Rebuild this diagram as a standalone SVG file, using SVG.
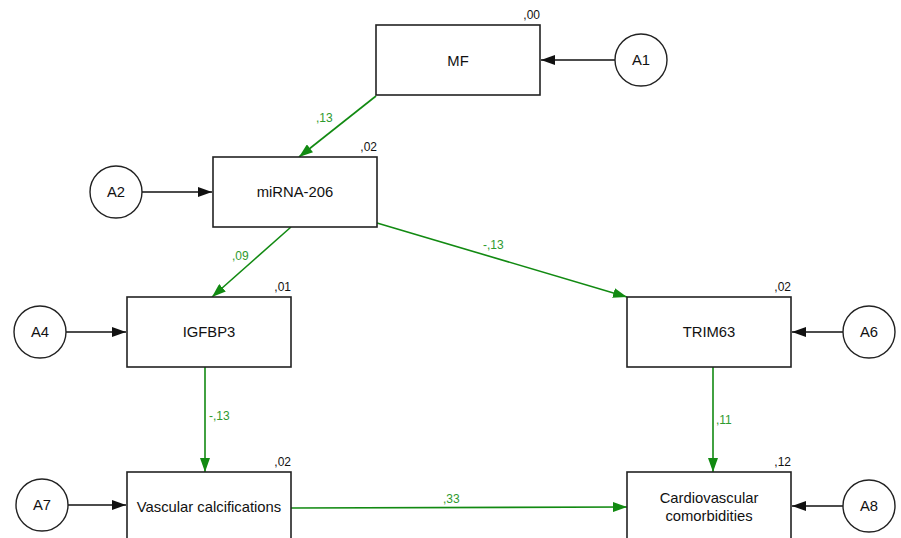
<svg xmlns="http://www.w3.org/2000/svg" width="901" height="538" viewBox="0 0 901 538">
<style>
.box{fill:#fff;stroke:#222;stroke-width:1.6}
.err{fill:#fff;stroke:#222;stroke-width:1.4}
.t{font-family:"Liberation Sans",Arial,sans-serif;font-size:14.8px;fill:#111;text-anchor:middle}
.r{font-family:"Liberation Sans",Arial,sans-serif;font-size:12px;fill:#111;text-anchor:end}
.g{font-family:"Liberation Sans",Arial,sans-serif;font-size:12px;fill:#2e9a2e}
.pl{stroke:#128a12;stroke-width:1.6;fill:none}
.el{stroke:#111;stroke-width:1.6;fill:none}
</style>
<defs>
<marker id="ag" viewBox="0 0 14 10" refX="14" refY="5" markerWidth="14" markerHeight="10" markerUnits="userSpaceOnUse" orient="auto">
<path d="M0,0L14,5L0,10z" fill="#128a12"/>
</marker>
<marker id="ab" viewBox="0 0 14 10" refX="14" refY="5" markerWidth="14" markerHeight="10" markerUnits="userSpaceOnUse" orient="auto">
<path d="M0,0L14,5L0,10z" fill="#111"/>
</marker>
</defs>
<rect width="901" height="538" fill="#fff"/>
<g id="connectors">
<line class="el" x1="615" y1="60" x2="541" y2="60" marker-end="url(#ab)"/>
<line class="el" x1="142" y1="192" x2="212" y2="192" marker-end="url(#ab)"/>
<line class="el" x1="66" y1="332" x2="126" y2="332" marker-end="url(#ab)"/>
<line class="el" x1="843" y1="332" x2="792" y2="332" marker-end="url(#ab)"/>
<line class="el" x1="68" y1="505" x2="126" y2="505" marker-end="url(#ab)"/>
<line class="el" x1="843" y1="506" x2="792" y2="506" marker-end="url(#ab)"/>
<line class="pl" x1="376" y1="96" x2="299" y2="157" marker-end="url(#ag)"/>
<line class="pl" x1="291" y1="227" x2="212" y2="297" marker-end="url(#ag)"/>
<line class="pl" x1="377" y1="223" x2="627" y2="297" marker-end="url(#ag)"/>
<line class="pl" x1="205" y1="367" x2="205" y2="472" marker-end="url(#ag)"/>
<line class="pl" x1="713" y1="367" x2="713" y2="472" marker-end="url(#ag)"/>
<line class="pl" x1="291" y1="508" x2="627" y2="507" marker-end="url(#ag)"/>
<text class="g" x="316" y="122">,13</text>
<text class="g" x="232" y="260">,09</text>
<text class="g" x="483" y="249">-,13</text>
<text class="g" x="209" y="420">-,13</text>
<text class="g" x="716" y="424">,11</text>
<text class="g" x="443" y="503">,33</text>
</g>
<g id="MF"><rect class="box" x="376" y="25" width="164" height="70"/><text class="t" x="458" y="66">MF</text><text class="r" x="540" y="19">,00</text></g>
<g id="miRNA206"><rect class="box" x="213" y="157" width="164" height="70"/><text class="t" x="295" y="197">miRNA-206</text><text class="r" x="377" y="151">,02</text></g>
<g id="IGFBP3"><rect class="box" x="127" y="297" width="164" height="70"/><text class="t" x="209" y="337">IGFBP3</text><text class="r" x="291" y="291">,01</text></g>
<g id="TRIM63"><rect class="box" x="627" y="297" width="164" height="70"/><text class="t" x="709" y="337">TRIM63</text><text class="r" x="791" y="291">,02</text></g>
<g id="Vascular"><rect class="box" x="127" y="472" width="164" height="70"/><text class="t" x="209" y="512">Vascular calcifications</text><text class="r" x="291" y="466">,02</text></g>
<g id="Cardio"><rect class="box" x="627" y="472" width="164" height="70"/><text class="t" x="709" y="503">Cardiovascular</text><text class="t" x="709" y="521">comorbidities</text><text class="r" x="791" y="466">,12</text></g>
<g id="A1"><circle class="err" cx="641" cy="60" r="26"/><text class="t" x="641" y="65">A1</text></g>
<g id="A2"><circle class="err" cx="116" cy="192" r="26"/><text class="t" x="116" y="197">A2</text></g>
<g id="A4"><circle class="err" cx="40" cy="332" r="26"/><text class="t" x="40" y="337">A4</text></g>
<g id="A6"><circle class="err" cx="869" cy="332" r="26"/><text class="t" x="869" y="337">A6</text></g>
<g id="A7"><circle class="err" cx="42" cy="505" r="26"/><text class="t" x="42" y="510">A7</text></g>
<g id="A8"><circle class="err" cx="869" cy="506" r="26"/><text class="t" x="869" y="511">A8</text></g>
</svg>
